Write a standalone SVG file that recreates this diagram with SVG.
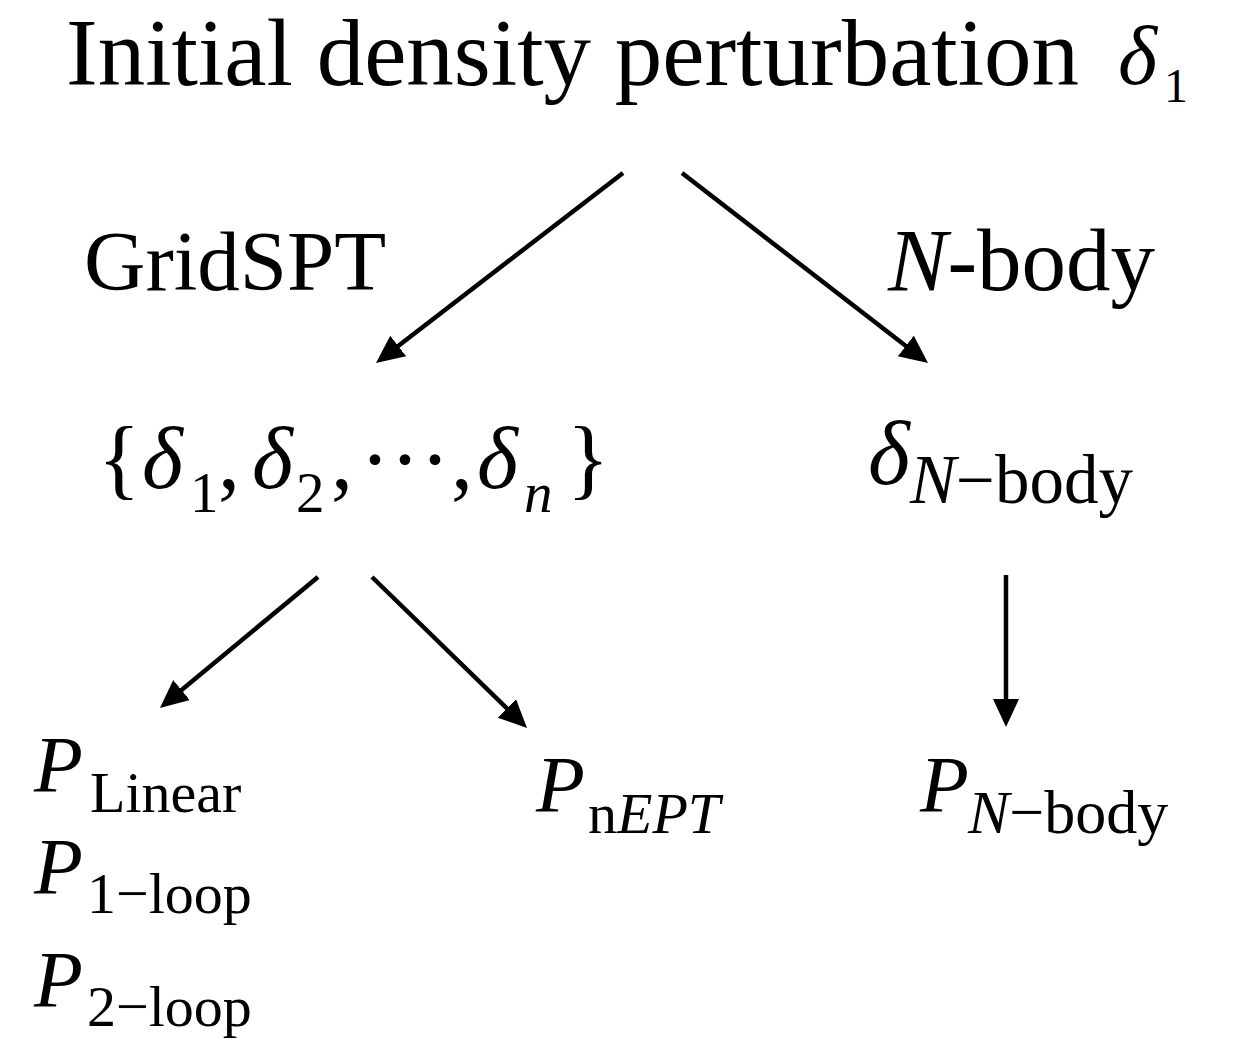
<svg xmlns="http://www.w3.org/2000/svg" width="1246" height="1045" viewBox="0 0 1246 1045">
<style>
text{font-family:"Liberation Serif","Times New Roman",serif;fill:#000}
.it{font-style:italic}
.conn line{stroke:#000;stroke-width:4.5;fill:none}
</style>
<defs>
<marker id="ah" markerUnits="userSpaceOnUse" markerWidth="30" markerHeight="28" refX="16" refY="13" orient="auto">
<path d="M0,0 L28,13 L0,26 Z" fill="#000"/>
</marker>
</defs>
<rect width="1246" height="1045" fill="#fff"/>
<g id="n-initial">
<text x="66" y="85" font-size="95">Initial density perturbation</text>
<text x="1118" y="84" font-size="84" class="it">δ</text>
<text x="1164" y="102" font-size="48">1</text>
</g>
<g id="l-gridspt"><text x="84" y="290" font-size="85">GridSPT</text></g>
<g id="l-nbody"><text x="888" y="290" font-size="89"><tspan class="it">N</tspan>-body</text></g>
<g id="n-deltas">
<text x="98" y="488" font-size="88">{</text>
<text x="142" y="488" font-size="88" class="it">δ</text>
<text x="190" y="512" font-size="57">1</text>
<text x="218" y="488" font-size="88">,</text>
<text x="252" y="488" font-size="88" class="it">δ</text>
<text x="296" y="512" font-size="57">2</text>
<text x="331" y="488" font-size="88">,</text>
<text x="360" y="490" font-size="90">···</text>
<text x="451" y="488" font-size="88">,</text>
<text x="477" y="488" font-size="88" class="it">δ</text>
<text x="524" y="512" font-size="57" class="it">n</text>
<text x="567" y="488" font-size="88">}</text>
</g>
<g id="n-delta-nbody">
<text x="868" y="484" font-size="90" class="it">δ</text>
<text x="910" y="503" font-size="69"><tspan class="it">N</tspan>−body</text>
</g>
<g id="n-plinear">
<text x="34" y="792" font-size="80" class="it">P</text>
<text x="90" y="812" font-size="58">Linear</text>
</g>
<g id="n-p1loop">
<text x="34" y="894" font-size="80" class="it">P</text>
<text x="87" y="913" font-size="58">1−loop</text>
</g>
<g id="n-p2loop">
<text x="34" y="1007" font-size="80" class="it">P</text>
<text x="87" y="1026" font-size="58">2−loop</text>
</g>
<g id="n-pnept">
<text x="536" y="812" font-size="80" class="it">P</text>
<text x="588" y="833" font-size="58">n<tspan class="it">EPT</tspan></text>
</g>
<g id="n-pnbody">
<text x="920" y="812" font-size="80" class="it">P</text>
<text x="968" y="833" font-size="62"><tspan class="it">N</tspan>−body</text>
</g>
<g id="connectors" class="conn">
<line x1="623" y1="173" x2="385.5" y2="355.7" marker-end="url(#ah)"/>
<line x1="682" y1="173" x2="918.5" y2="355.7" marker-end="url(#ah)"/>
<line x1="318" y1="577" x2="169.2" y2="700.3" marker-end="url(#ah)"/>
<line x1="372" y1="577" x2="518.4" y2="719.6" marker-end="url(#ah)"/>
<line x1="1006" y1="575" x2="1006" y2="715" marker-end="url(#ah)"/>
</g>
</svg>
